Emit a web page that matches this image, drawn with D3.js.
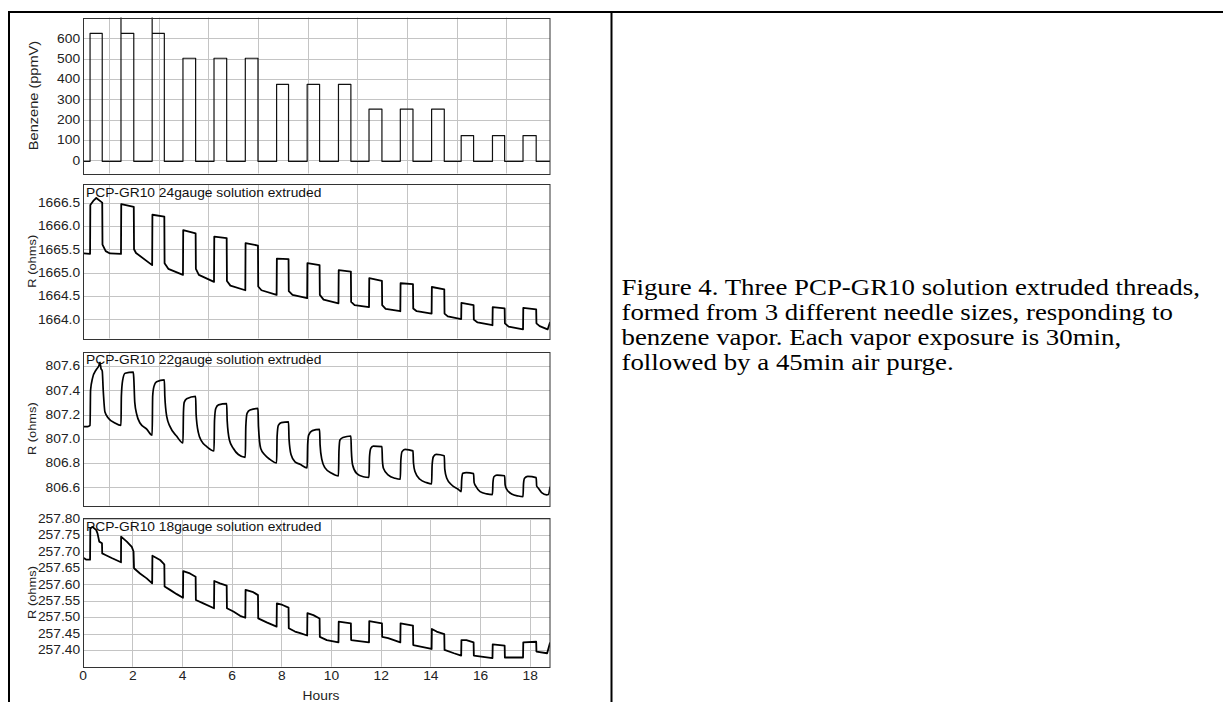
<!DOCTYPE html>
<html><head><meta charset="utf-8">
<script src="https://cdn.jsdelivr.net/npm/d3@7"></script>
<style>
html,body{margin:0;padding:0;background:#fff;}
svg{display:block;}
</style></head>
<body>
<svg id="chart" width="1223" height="702"></svg>
<script>
// ---------------- DATA ----------------
const xTicks = [0,2,4,6,8,10,12,14,16,18];
const topGridX = [1.06,3.06,5.06,7.06,9.06,11.06,13.06,15.06,17.06];
const benzeneTicks = [0,100,200,300,400,500,600];
const r24Ticks = [1664.0,1664.5,1665.0,1665.5,1666.0,1666.5];
const r22Ticks = [806.6,806.8,807.0,807.2,807.4,807.6];
const r18Ticks = [257.40,257.45,257.50,257.55,257.60,257.65,257.70,257.75,257.80];

const pulseOn  = [0.30,1.545,2.80,4.04,5.29,6.55,7.81,9.04,10.30,11.53,12.79,14.05,15.24,16.50,17.73];
const pulseOff = [0.79,2.06,3.29,4.55,5.80,7.06,8.29,9.54,10.80,12.05,13.30,14.56,15.74,16.99,18.26];
const benzeneLevel = [624,624,624,502,502,502,374,374,374,252,252,252,122,122,122];
const benzeneBase = -4;
const benzeneSpikes = [[1.545,760],[2.80,760]];

const r24 = [
[0.05,1665.41],[0.30,1665.40],
[0.31,1666.45],[0.45,1666.55],[0.55,1666.60],[0.79,1666.50],
[0.80,1665.60],[0.93,1665.46],[1.10,1665.41],[1.545,1665.40],
[1.555,1666.47],[2.06,1666.41],
[2.07,1665.50],[2.15,1665.42],[2.80,1665.16],
[2.81,1666.24],[3.29,1666.20],
[3.30,1665.20],[3.45,1665.08],[4.04,1664.95],
[4.05,1665.91],[4.55,1665.84],
[4.56,1665.08],[4.68,1664.95],[5.29,1664.80],
[5.30,1665.77],[5.80,1665.74],
[5.81,1664.82],[5.95,1664.72],[6.55,1664.62],
[6.56,1665.63],[7.06,1665.58],
[7.07,1664.70],[7.20,1664.62],[7.81,1664.52],
[7.82,1665.30],[8.29,1665.29],
[8.30,1664.60],[8.45,1664.52],[9.04,1664.45],
[9.05,1665.20],[9.54,1665.16],
[9.55,1664.52],[9.70,1664.42],[10.30,1664.34],
[10.31,1665.05],[10.80,1665.02],
[10.81,1664.37],[10.95,1664.30],[11.53,1664.26],
[11.54,1664.88],[12.05,1664.82],
[12.06,1664.30],[12.20,1664.22],[12.79,1664.17],
[12.80,1664.77],[13.30,1664.75],
[13.31,1664.23],[13.45,1664.17],[14.05,1664.12],
[14.06,1664.69],[14.56,1664.64],
[14.57,1664.12],[14.70,1664.06],[15.24,1664.00],
[15.25,1664.35],[15.74,1664.30],
[15.75,1663.99],[15.90,1663.93],[16.50,1663.87],
[16.51,1664.26],[16.99,1664.23],
[17.00,1663.91],[17.15,1663.84],[17.73,1663.78],
[17.74,1664.24],[18.26,1664.21],
[18.27,1663.91],[18.40,1663.85],[18.72,1663.78],[18.82,1663.94]
];

const r22 = [
[0.05,807.10],[0.20,807.10],[0.30,807.11],
[0.32,807.40],[0.40,807.50],[0.55,807.57],[0.65,807.60],[0.70,807.63],[0.74,807.58],[0.79,807.56],
[0.83,807.40],[0.90,807.22],[1.04,807.17],[1.30,807.13],[1.545,807.11],
[1.56,807.35],[1.61,807.48],[1.71,807.54],[2.04,807.55],
[2.06,807.50],[2.10,807.30],[2.18,807.20],[2.31,807.13],[2.58,807.08],[2.80,807.03],
[2.82,807.35],[2.87,807.43],[2.98,807.47],[3.29,807.485],
[3.31,807.35],[3.39,807.18],[3.52,807.10],[3.79,807.02],[4.04,806.965],
[4.06,807.22],[4.09,807.30],[4.19,807.33],[4.55,807.35],
[4.57,807.20],[4.66,807.05],[4.79,806.98],[5.00,806.935],[5.29,806.90],
[5.31,807.15],[5.36,807.25],[5.47,807.28],[5.80,807.29],
[5.82,807.15],[5.91,806.99],[6.07,806.92],[6.27,806.87],[6.55,806.847],
[6.57,807.10],[6.62,807.21],[6.74,807.237],[7.06,807.25],
[7.08,807.10],[7.17,806.92],[7.34,806.866],[7.54,806.83],[7.81,806.80],
[7.83,807.02],[7.88,807.11],[8.00,807.133],[8.29,807.14],
[8.31,807.00],[8.39,806.87],[8.55,806.81],[8.75,806.79],[9.04,806.76],
[9.06,806.95],[9.10,807.03],[9.25,807.067],[9.54,807.078],
[9.56,806.95],[9.63,806.83],[9.76,806.76],[10.03,806.715],[10.30,806.693],
[10.32,806.90],[10.36,806.99],[10.48,807.01],[10.80,807.023],
[10.82,806.90],[10.87,806.784],[11.03,806.715],[11.30,806.687],[11.53,806.682],
[11.55,806.85],[11.60,806.92],[11.70,806.94],[12.05,806.935],
[12.07,806.82],[12.11,806.757],[12.31,806.70],[12.58,806.674],[12.79,806.666],
[12.81,806.82],[12.86,806.894],[12.98,806.913],[13.30,806.90],
[13.32,806.80],[13.38,806.73],[13.58,806.666],[13.85,806.638],[14.05,806.627],
[14.07,806.78],[14.12,806.852],[14.23,806.872],[14.56,806.86],
[14.58,806.75],[14.66,806.674],[14.86,806.619],[15.12,806.584],[15.24,806.564],
[15.26,806.66],[15.30,806.715],[15.45,806.72],[15.74,806.712],
[15.76,806.64],[15.84,806.605],[16.00,806.564],[16.27,806.545],[16.50,806.54],
[16.52,806.64],[16.56,806.687],[16.68,806.70],[16.99,806.695],
[17.01,806.62],[17.07,806.584],[17.27,806.545],[17.54,806.528],[17.73,806.523],
[17.75,806.63],[17.79,806.674],[17.92,806.69],[18.26,806.68],
[18.28,806.61],[18.35,806.592],[18.48,806.555],[18.68,806.537],[18.75,806.54],[18.82,806.605]
];

const r18 = [
[0.05,257.680],[0.15,257.675],[0.30,257.675],
[0.31,257.770],[0.40,257.775],[0.55,257.765],[0.60,257.755],[0.67,257.730],[0.78,257.725],
[0.79,257.694],[0.90,257.690],[1.17,257.680],[1.545,257.667],
[1.55,257.745],[1.78,257.730],[1.98,257.714],[2.05,257.700],
[2.07,257.649],[2.31,257.633],[2.58,257.618],[2.80,257.603],
[2.81,257.687],[3.12,257.674],[3.25,257.664],[3.29,257.660],
[3.30,257.593],[3.52,257.583],[3.79,257.570],[4.04,257.559],
[4.05,257.640],[4.32,257.633],[4.55,257.623],
[4.56,257.552],[4.86,257.542],[5.29,257.527],
[5.30,257.610],[5.53,257.603],[5.80,257.596],
[5.81,257.527],[6.07,257.517],[6.34,257.504],[6.55,257.498],
[6.56,257.583],[6.87,257.576],[7.06,257.567],
[7.07,257.496],[7.41,257.484],[7.81,257.471],
[7.82,257.542],[8.05,257.537],[8.29,257.529],
[8.30,257.466],[8.55,257.456],[8.76,257.451],[9.04,257.444],
[9.05,257.512],[9.29,257.506],[9.54,257.496],
[9.55,257.440],[9.83,257.430],[10.30,257.423],
[10.31,257.486],[10.80,257.481],
[10.81,257.430],[11.53,257.423],
[11.54,257.488],[12.05,257.481],
[12.06,257.440],[12.30,257.436],[12.79,257.423],
[12.80,257.481],[13.30,257.474],
[13.31,257.415],[14.05,257.403],
[14.06,257.464],[14.25,257.456],[14.56,257.448],
[14.57,257.400],[14.95,257.390],[15.24,257.383],
[15.25,257.430],[15.45,257.430],[15.74,257.423],
[15.75,257.383],[16.50,257.375],
[16.51,257.417],[16.99,257.413],
[17.00,257.377],[17.73,257.377],
[17.74,257.423],[18.26,257.425],
[18.27,257.395],[18.70,257.390],[18.82,257.423]
];

const titles = ["PCP-GR10 24gauge solution extruded","PCP-GR10 22gauge solution extruded","PCP-GR10 18gauge solution extruded"];
const captionLines = [
 "Figure 4. Three PCP-GR10 solution extruded threads,",
 "formed from 3 different needle sizes, responding to",
 "benzene vapor. Each vapor exposure is 30min,",
 "followed by a 45min air purge."
];

// ---------------- BUILD ----------------
const benzeneSeries = [[0.048, benzeneBase]];
pulseOn.forEach((on,i)=>{
  benzeneSeries.push([on, benzeneBase]);
  const sp = benzeneSpikes.find(s=>s[0]===on);
  if (sp) benzeneSeries.push([on, sp[1]]);
  benzeneSeries.push([on, benzeneLevel[i]]);
  benzeneSeries.push([pulseOff[i], benzeneLevel[i]]);
  benzeneSeries.push([pulseOff[i], benzeneBase]);
});
benzeneSeries.push([18.82, benzeneBase]);

const svg = d3.select('#chart');
const SX = 1.15;
const SANS = "'Liberation Sans', Arial, sans-serif";
const L = 83.5, R = 550;
const x = d3.scaleLinear().domain([0.048, 18.82]).range([83.8, 550.1]);

const panels = [
 {top:17.5, bottom:173.5, domain:[-64,702], ticks:benzeneTicks, fmt:d3.format('d'), data:benzeneSeries, vgrid:topGridX, label:'Benzene (ppmV)', lx:38, lsize:13.5, lsx:1.08, sw:1.2, curve:d3.curveLinear},
 {top:184, bottom:338.5, domain:[1663.585,1666.9], ticks:r24Ticks, fmt:d3.format('.1f'), data:r24, vgrid:topGridX, label:'R (ohms)', lx:35.5, lsize:11.5, lsx:1.12, title:titles[0], sw:1.8, curve:d3.curveLinear},
 {top:351.7, bottom:505.7, domain:[806.448,807.718], ticks:r22Ticks, fmt:d3.format('.1f'), data:r22, vgrid:topGridX, label:'R (ohms)', lx:35.5, lsize:11.5, lsx:1.12, title:titles[1], sw:1.7, curve:d3.curveMonotoneX},
 {top:518.3, bottom:666.7, domain:[257.349,257.801], ticks:r18Ticks, fmt:d3.format('.2f'), data:r18, vgrid:xTicks, label:'R (ohms)', lx:35.5, lsize:11.5, lsx:1.12, title:titles[2], sw:1.8, curve:d3.curveLinear, xaxis:true}
];

const defs = svg.append('defs');

panels.forEach((p,pi)=>{
  const y = d3.scaleLinear().domain(p.domain).range([p.bottom, p.top]);
  const g = svg.append('g');
  const cid = 'clip'+pi;
  defs.append('clipPath').attr('id',cid).append('rect')
    .attr('x',L).attr('y',p.top).attr('width',R-L).attr('height',p.bottom-p.top);

  // gridlines
  g.append('g').selectAll('line.h').data(p.ticks).join('line')
    .attr('x1',L).attr('x2',R)
    .attr('y1',d=>Math.round(y(d))+0.5).attr('y2',d=>Math.round(y(d))+0.5)
    .attr('stroke','#c4c4c4').attr('stroke-width',1);
  g.append('g').selectAll('line.v').data(p.vgrid).join('line')
    .attr('y1',p.top).attr('y2',p.bottom)
    .attr('x1',d=>Math.round(x(d))+0.5).attr('x2',d=>Math.round(x(d))+0.5)
    .attr('stroke','#c4c4c4').attr('stroke-width',1);

  // title inside panel
  if (p.title){
    g.append('g').attr('transform',`translate(86,${p.top+12.5}) scale(${SX},1)`)
      .append('text').text(p.title)
      .attr('font-family',SANS).attr('font-size',12).attr('fill','#111');
  }

  // data line
  const line = d3.line().x(d=>x(d[0])).y(d=>y(d[1])).curve(p.curve);
  g.append('path').datum(p.data)
    .attr('clip-path',`url(#${cid})`)
    .attr('d',line).attr('fill','none')
    .attr('stroke', pi===0 ? '#111' : '#000')
    .attr('stroke-width',p.sw).attr('stroke-linejoin','round');

  // frame
  g.append('rect').attr('x',L).attr('y',Math.round(p.top)+0.5)
    .attr('width',R-L).attr('height',Math.round(p.bottom)-Math.round(p.top))
    .attr('fill','none').attr('stroke','#333').attr('stroke-width',1);

  // left axis
  const ax = g.append('g').attr('transform',`translate(${L},0)`)
    .call(d3.axisLeft(y).tickValues(p.ticks).tickFormat(p.fmt).tickSize(0).tickPadding(3));
  ax.select('.domain').remove();
  ax.selectAll('text').attr('font-family',SANS).attr('font-size',12).attr('fill','#222')
    .attr('transform',`scale(${SX},1)`);

  // y label
  svg.append('g').attr('transform',`translate(${p.lx},${(p.top+p.bottom)/2}) rotate(-90) scale(${p.lsx},1)`)
    .append('text').text(p.label).attr('text-anchor','middle')
    .attr('font-family',SANS).attr('font-size',p.lsize).attr('fill','#222');

  if (p.xaxis){
    const bx = g.append('g').attr('transform',`translate(0,${p.bottom})`)
      .call(d3.axisBottom(x).tickValues(xTicks).tickFormat(d3.format('d')).tickSize(0).tickPadding(5));
    bx.select('.domain').remove();
    bx.selectAll('text').attr('font-family',SANS).attr('font-size',12).attr('fill','#222')
      .attr('transform',`scale(${SX},1)`);
    svg.append('g').attr('transform',`translate(321,700) scale(${SX},1)`)
      .append('text').text('Hours').attr('text-anchor','middle')
      .attr('font-family',SANS).attr('font-size',12).attr('fill','#222');
  }
});

// table borders
svg.append('line').attr('x1',8).attr('x2',1223).attr('y1',12).attr('y2',12).attr('stroke','#000').attr('stroke-width',2);
svg.append('line').attr('x1',9).attr('x2',9).attr('y1',11).attr('y2',702).attr('stroke','#000').attr('stroke-width',2);
svg.append('line').attr('x1',611.5).attr('x2',611.5).attr('y1',11).attr('y2',702).attr('stroke','#000').attr('stroke-width',2);

// caption
const cap = svg.append('g').attr('transform','translate(621.5,0) scale(1.168,1)');
cap.selectAll('text').data(captionLines).join('text')
  .attr('x',0).attr('y',(d,i)=>295+i*25)
  .attr('font-family',"'Liberation Serif','Times New Roman',Times,serif")
  .attr('font-size',23).attr('fill','#000').text(d=>d);
</script>
</body></html>
